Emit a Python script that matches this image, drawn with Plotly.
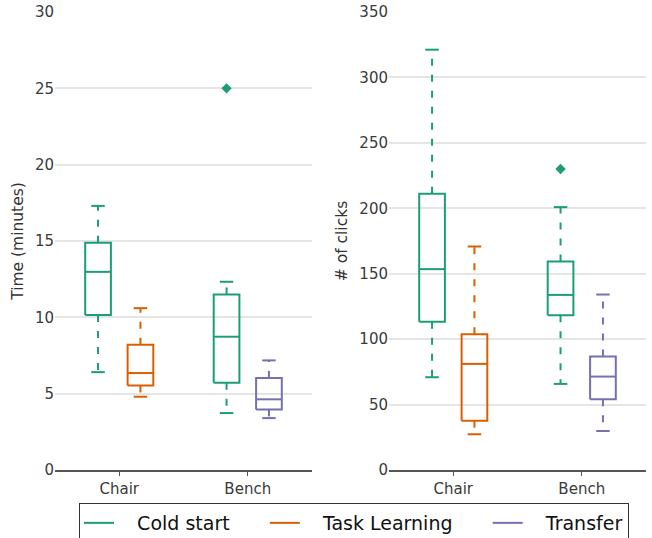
import plotly.graph_objects as go

categories = ["Chair", "Bench"]
series_names = ["Cold start", "Task Learning", "Transfer"]
colors = ["#1b9e77", "#d95f02", "#7570b3"]

# Time (minutes) panel: per category [Chair, Bench]; None = not present
time_cold_q1 = [10.15, 5.72]
time_cold_med = [12.98, 8.73]
time_cold_q3 = [14.88, 11.5]
time_cold_lo = [6.41, 3.73]
time_cold_hi = [17.3, 12.33]
time_cold_out = [[], [25.0]]

time_task_q1 = [5.54, None]
time_task_med = [6.35, None]
time_task_q3 = [8.2, None]
time_task_lo = [4.8, None]
time_task_hi = [10.6, None]
time_task_out = [[], []]

time_tr_q1 = [None, 3.97]
time_tr_med = [None, 4.63]
time_tr_q3 = [None, 6.02]
time_tr_lo = [None, 3.4]
time_tr_hi = [None, 7.18]
time_tr_out = [[], []]

# Number of clicks panel
clk_cold_q1 = [113.2, 118.3]
clk_cold_med = [153.5, 133.8]
clk_cold_q3 = [211.1, 159.3]
clk_cold_lo = [70.9, 65.8]
clk_cold_hi = [321.2, 200.9]
clk_cold_out = [[], [230.0]]

clk_task_q1 = [37.7, None]
clk_task_med = [81.1, None]
clk_task_q3 = [103.7, None]
clk_task_lo = [27.3, None]
clk_task_hi = [170.8, None]
clk_task_out = [[], []]

clk_tr_q1 = [None, 54.1]
clk_tr_med = [None, 71.4]
clk_tr_q3 = [None, 86.7]
clk_tr_lo = [None, 29.8]
clk_tr_hi = [None, 134.1]
clk_tr_out = [[], []]

time_stats = [
    (time_cold_q1, time_cold_med, time_cold_q3, time_cold_lo, time_cold_hi, time_cold_out),
    (time_task_q1, time_task_med, time_task_q3, time_task_lo, time_task_hi, time_task_out),
    (time_tr_q1, time_tr_med, time_tr_q3, time_tr_lo, time_tr_hi, time_tr_out),
]
clk_stats = [
    (clk_cold_q1, clk_cold_med, clk_cold_q3, clk_cold_lo, clk_cold_hi, clk_cold_out),
    (clk_task_q1, clk_task_med, clk_task_q3, clk_task_lo, clk_task_hi, clk_task_out),
    (clk_tr_q1, clk_tr_med, clk_tr_q3, clk_tr_lo, clk_tr_hi, clk_tr_out),
]

BOX_W = 0.2
CAP_W = 0.105
OFFSET = 0.165
NB = "\u00a0"
legend_labels = [NB * 3 + series_names[0] + NB * 5,
                 NB * 3 + series_names[1] + NB * 5,
                 NB * 3 + series_names[2]]

fig = go.Figure()


def add_panel(stats_list, xa, ya, show_legend):
    for si, (q1, med, q3, lo, hi, out) in enumerate(stats_list):
        col = colors[si]
        bx, by, wx, wy, cx, cy, ox, oy = [], [], [], [], [], [], [], []
        for ci in range(len(categories)):
            if q1[ci] is None:
                continue
            p = ci - OFFSET if si == 0 else ci + OFFSET
            l, r = p - BOX_W / 2, p + BOX_W / 2
            bx += [l, r, r, l, l, None, l, r, None]
            by += [q1[ci], q1[ci], q3[ci], q3[ci], q1[ci], None, med[ci], med[ci], None]
            wx += [p, p, None, p, p, None]
            wy += [q3[ci], hi[ci], None, q1[ci], lo[ci], None]
            cx += [p - CAP_W / 2, p + CAP_W / 2, None, p - CAP_W / 2, p + CAP_W / 2, None]
            cy += [hi[ci], hi[ci], None, lo[ci], lo[ci], None]
            for v in out[ci]:
                ox.append(p)
                oy.append(v)
        fig.add_trace(go.Scatter(x=bx, y=by, mode="lines", xaxis=xa, yaxis=ya,
                                 line=dict(color=col, width=2), name=legend_labels[si],
                                 legendgroup=series_names[si], showlegend=show_legend,
                                 hoverinfo="skip"))
        fig.add_trace(go.Scatter(x=wx, y=wy, mode="lines", xaxis=xa, yaxis=ya,
                                 line=dict(color=col, width=2, dash="7px,9px"),
                                 legendgroup=series_names[si], showlegend=False,
                                 hoverinfo="skip"))
        fig.add_trace(go.Scatter(x=cx, y=cy, mode="lines", xaxis=xa, yaxis=ya,
                                 line=dict(color=col, width=2),
                                 legendgroup=series_names[si], showlegend=False,
                                 hoverinfo="skip"))
        if ox:
            fig.add_trace(go.Scatter(x=ox, y=oy, mode="markers", xaxis=xa, yaxis=ya,
                                     marker=dict(color=col, symbol="diamond", size=8),
                                     legendgroup=series_names[si], showlegend=False,
                                     hoverinfo="skip"))


add_panel(time_stats, "x", "y", True)
add_panel(clk_stats, "x2", "y2", False)

font_family = "DejaVu Sans"
xcommon = dict(range=[-0.5, 1.5], tickvals=[0, 1], ticktext=categories, automargin=False,
               showgrid=False, zeroline=False, showline=True, linecolor="#555555",
               linewidth=1.5, ticks="outside", ticklen=4, tickcolor="#555555",
               tickfont=dict(size=15, color="#3a3a3a", family=font_family))
ycommon = dict(showgrid=True, gridcolor="#e5e5e5", gridwidth=2, zeroline=False, automargin=False,
               showline=False, ticks="", tickfont=dict(size=15, color="#3a3a3a", family=font_family))

fig.update_layout(
    width=652, height=538,
    margin=dict(l=0, r=0, t=12, b=68),
    paper_bgcolor="white", plot_bgcolor="white",
    font=dict(family=font_family, color="#333333"),
    xaxis=dict(domain=[55 / 652, 312 / 652], anchor="y", **xcommon),
    xaxis2=dict(domain=[389 / 652, 646 / 652], anchor="y2", **xcommon),
    yaxis=dict(range=[0, 30], dtick=5, anchor="x",
               title=dict(text="Time (minutes)", font=dict(size=15.5, color="#333333"), standoff=7),
               **ycommon),
    yaxis2=dict(range=[0, 350], dtick=50, anchor="x2",
                title=dict(text="# of clicks", font=dict(size=15.5, color="#333333"), standoff=7),
                **ycommon),
    legend=dict(orientation="h", xref="container", yref="container",
                x=79 / 652, xanchor="left", y=1 - 503 / 538, yanchor="top",
                bordercolor="#333333", borderwidth=1, bgcolor="white",
                font=dict(size=19, color="#111111", family=font_family)),
    showlegend=True,
)

fig.write_html("out.html", config=dict(displayModeBar=False),
               post_script="document.body.style.margin='0';")
